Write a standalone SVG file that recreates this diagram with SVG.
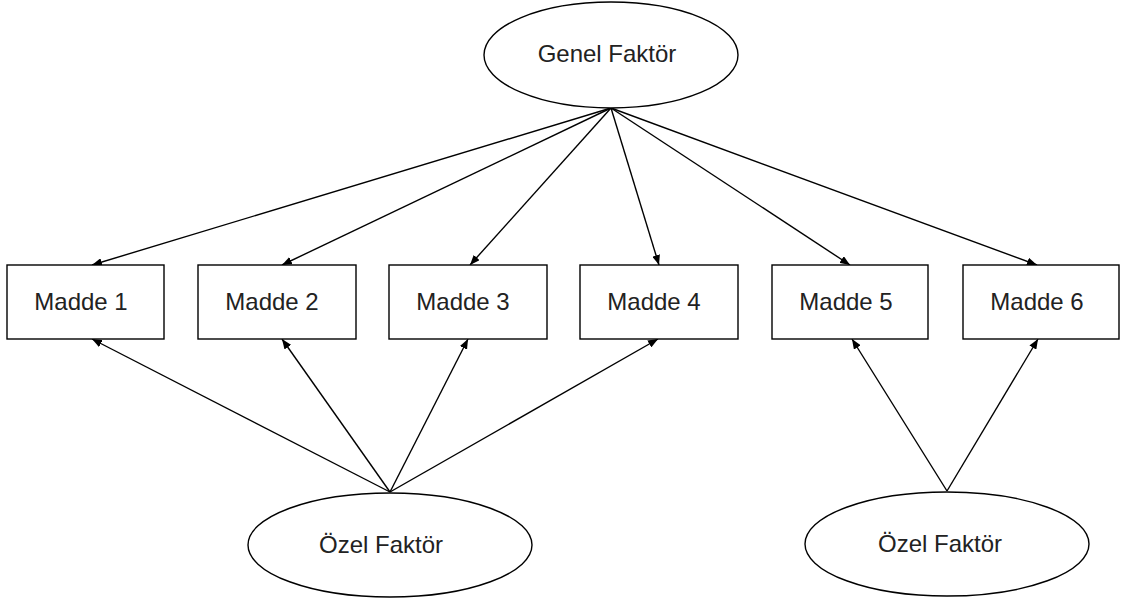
<svg xmlns="http://www.w3.org/2000/svg" width="1124" height="603" viewBox="0 0 1124 603">
<defs>
<marker id="ah" viewBox="0 0 10 8" refX="10" refY="4" markerWidth="10" markerHeight="8" markerUnits="userSpaceOnUse" orient="auto">
<path d="M0,0 L10,4 L0,8 Z" fill="#000"/>
</marker>
<style>
.shape{fill:#fff;stroke:#000;stroke-width:1.4}
.lbl{font-family:"Liberation Sans",Arial,sans-serif;font-size:24px;fill:#222;text-anchor:middle}
.edge{stroke:#000;stroke-width:1.4;fill:none;marker-end:url(#ah)}
</style>
</defs>
<rect width="1124" height="603" fill="#fff"/>
<g id="connectors">
<line class="edge" x1="611" y1="108" x2="92" y2="265"/>
<line class="edge" x1="611" y1="108" x2="282" y2="265"/>
<line class="edge" x1="611" y1="108" x2="470" y2="265"/>
<line class="edge" x1="611" y1="108" x2="659" y2="265"/>
<line class="edge" x1="611" y1="108" x2="850" y2="265"/>
<line class="edge" x1="611" y1="108" x2="1037" y2="265"/>
<line class="edge" x1="390" y1="492" x2="92" y2="339"/>
<line class="edge" x1="390" y1="492" x2="282" y2="339"/>
<line class="edge" x1="390" y1="492" x2="468" y2="339"/>
<line class="edge" x1="390" y1="492" x2="658" y2="339"/>
<line class="edge" x1="947" y1="491" x2="852" y2="339"/>
<line class="edge" x1="947" y1="491" x2="1038" y2="339"/>
</g>
<g id="genel">
<ellipse class="shape" cx="611" cy="55" rx="127" ry="53"/>
<text class="lbl" x="607" y="62">Genel Faktör</text>
</g>
<g id="madde1"><rect class="shape" x="7" y="265" width="157" height="74"/><text class="lbl" x="81" y="310">Madde 1</text></g>
<g id="madde2"><rect class="shape" x="198" y="265" width="158" height="74"/><text class="lbl" x="272" y="310">Madde 2</text></g>
<g id="madde3"><rect class="shape" x="389" y="265" width="158" height="74"/><text class="lbl" x="463" y="310">Madde 3</text></g>
<g id="madde4"><rect class="shape" x="580" y="265" width="158" height="74"/><text class="lbl" x="654" y="310">Madde 4</text></g>
<g id="madde5"><rect class="shape" x="772" y="265" width="156" height="74"/><text class="lbl" x="846" y="310">Madde 5</text></g>
<g id="madde6"><rect class="shape" x="963" y="265" width="156" height="74"/><text class="lbl" x="1037" y="310">Madde 6</text></g>
<g id="ozel1">
<ellipse class="shape" cx="390" cy="545" rx="142" ry="52"/>
<text class="lbl" x="381" y="553">Özel Faktör</text>
</g>
<g id="ozel2">
<ellipse class="shape" cx="947" cy="544" rx="142" ry="52"/>
<text class="lbl" x="940" y="552">Özel Faktör</text>
</g>
</svg>
